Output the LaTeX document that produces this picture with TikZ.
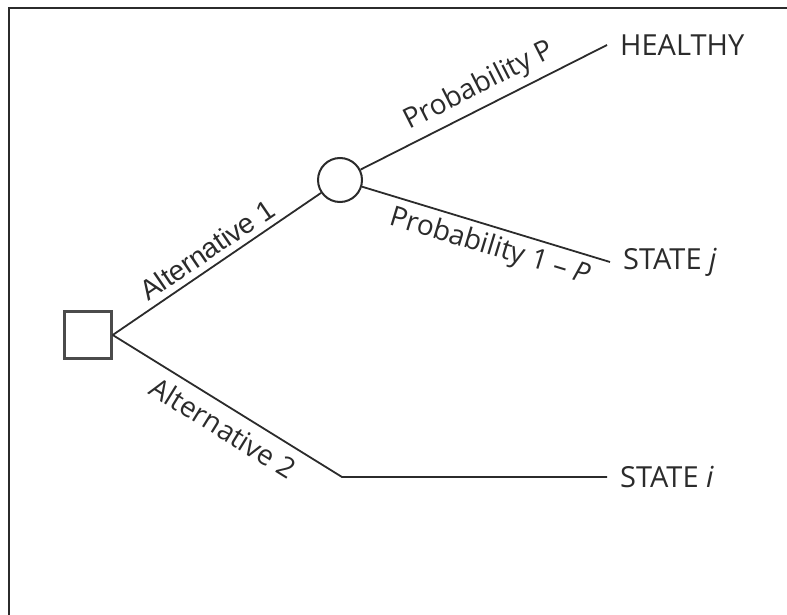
\documentclass[tikz,border=0pt]{standalone}
\usepackage{fontspec}
\setmainfont{Open Sans}
\newfontfamily\arialfont{Liberation Sans}
\usetikzlibrary{positioning,calc}
\definecolor{Ink}{HTML}{2B2B2B}

\begin{document}
\begin{tikzpicture}[x=1pt,y=-1pt,
  branch/.style={draw=Ink,line width=1.8pt},
  lbl/.style={font=\fontsize{28}{32}\selectfont,text=Ink,sloped,inner sep=6pt},
  outcome/.style={font=\fontsize{29}{33}\selectfont,text=Ink,anchor=west,inner xsep=13pt,inner ysep=0pt}]
\useasboundingbox (0,0) rectangle (787,615);
\draw[Ink,line width=2.2pt] (9,615) -- (9,8) -- (787,8);
\node[draw=Ink!85,line width=2.4pt,minimum size=47pt,inner sep=0pt] (dec) at (88,335) {};
\node[circle,draw=Ink,line width=2pt,minimum size=44pt,inner sep=0pt] (chance) at (340,180) {};
\node[outcome] (healthy) at (607,45) {HEALTHY};
\node[outcome] (statej) at (610,262) {STATE \textit{j}};
\coordinate (bend) at (342,477);
\node[outcome] (statei) at (607,477) {STATE \textit{i}};
% decision branches
\draw[branch] (dec.east) -- node[lbl,above,pos=0.5,font=\arialfont\fontsize{28}{32}\selectfont] {Alternative 1} (chance);
\draw[branch] (dec.east) -- node[lbl,below,pos=0.53,inner sep=9pt] {Alternative 2} (bend) -- (statei.west);
% chance branches
\draw[branch] (chance) -- node[lbl,above,pos=0.52] {Probability P} (healthy.west);
\draw[branch] (chance) -- node[lbl,below,pos=0.54] {Probability 1 -- \textit{P}} (statej.west);
\end{tikzpicture}
\end{document}
